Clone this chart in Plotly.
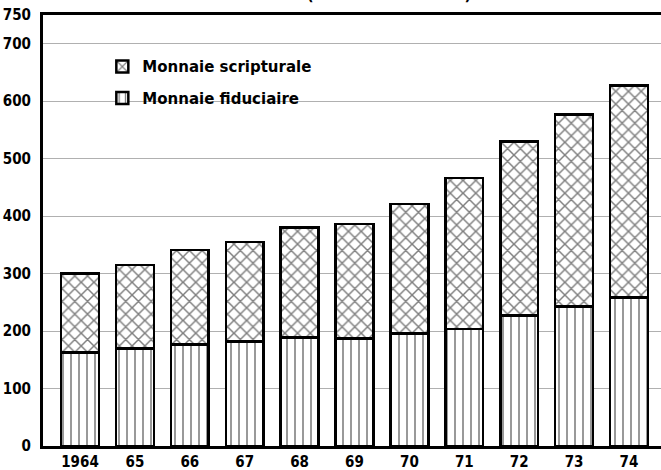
import plotly.graph_objects as go

years = ["1964", "65", "66", "67", "68", "69", "70", "71", "72", "73", "74"]
fiduciaire = [163, 170, 177, 182, 189, 187, 196, 204, 227, 243, 258]
total = [300, 315, 341, 355, 380, 386, 421, 466, 530, 577, 627]
scripturale = [t - f for t, f in zip(total, fiduciaire)]

y_ticks = [0, 100, 200, 300, 400, 500, 600, 700, 750]

FONT = "DejaVu Sans Condensed, Liberation Sans Narrow, sans-serif"
LEGEND_FONT = "DejaVu Sans, Liberation Sans, sans-serif"

x_pos = list(range(len(years)))

fig = go.Figure()
fig.add_trace(go.Bar(
    x=x_pos, y=fiduciaire, name="Monnaie fiduciaire",
    width=0.69, legendgroup="fid", legendrank=2,
    marker=dict(
        color="white",
        line=dict(color="black", width=2.5),
        pattern=dict(shape="|", fgcolor="black", bgcolor="white",
                     size=8, solidity=0.2),
    ),
))
fig.add_trace(go.Bar(
    x=x_pos, y=scripturale, name="Monnaie scripturale",
    width=0.69, legendgroup="scr", legendrank=1,
    marker=dict(
        color="white",
        line=dict(color="black", width=2.5),
        pattern=dict(shape="x", fgcolor="black", bgcolor="white",
                     size=9, solidity=0.3),
    ),
))

# sous-titre coupé en haut de la page
fig.add_annotation(
    text="(milliards de francs)", xref="paper", yref="paper",
    x=0.56, y=1, yanchor="bottom", yshift=9, showarrow=False,
    font=dict(family=FONT, size=16, color="black", weight="bold"),
)

fig.update_layout(
    width=661, height=470,
    margin=dict(l=43, r=0, t=15, b=24),
    barmode="stack",
    plot_bgcolor="white",
    paper_bgcolor="white",
    showlegend=True,
    legend=dict(
        x=0.096, y=0.918, xanchor="left", yanchor="top",
        traceorder="grouped",
        bgcolor="rgba(0,0,0,0)",
        font=dict(family=LEGEND_FONT, size=15, color="black", weight="bold"),
        tracegroupgap=9,
    ),
)

fig.update_xaxes(
    tickmode="array", tickvals=x_pos, ticktext=years,
    range=[-0.674, 10.583],
    showgrid=False, zeroline=False,
    showline=True, linecolor="black", linewidth=3, mirror=True,
    ticks="", tickfont=dict(family=FONT, size=15, color="black", weight="bold"),
)
fig.update_yaxes(
    range=[0, 750],
    tickmode="array", tickvals=y_ticks,
    showgrid=True, gridcolor="#b0b0b0", gridwidth=1,
    zeroline=False,
    showline=True, linecolor="black", linewidth=3,
    ticks="", ticklabelstandoff=6,
    tickfont=dict(family=FONT, size=15, color="black", weight="bold"),
)

fig.write_html(
    "out.html",
    config={"displayModeBar": False},
    post_script="document.body.style.margin='0';",
)
